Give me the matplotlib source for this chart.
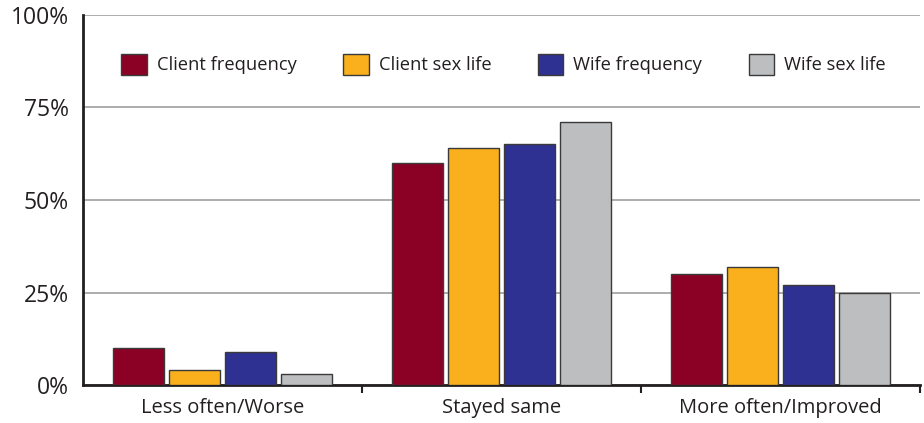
import matplotlib
matplotlib.use("Agg")
import matplotlib.pyplot as plt
import numpy as np

plt.rcParams['font.family'] = ['Open Sans', 'DejaVu Sans']

categories = ["Less often/Worse", "Stayed same", "More often/Improved"]
series_names = ["Client frequency", "Client sex life", "Wife frequency", "Wife sex life"]
client_frequency = [10, 60, 30]
client_sex_life = [4, 64, 32]
wife_frequency = [9, 65, 27]
wife_sex_life = [3, 71, 25]
colors = ["#8B0025", "#F9B01C", "#2E3192", "#BCBEC0"]
y_ticks = [0, 25, 50, 75, 100]
y_tick_labels = ["0%", "25%", "50%", "75%", "100%"]

series = [client_frequency, client_sex_life, wife_frequency, wife_sex_life]

fig = plt.figure(figsize=(9.24, 4.23), dpi=100)
ax = fig.add_axes([83/924, 38/423, 837/924, 370/423])

centers = np.arange(len(categories)) + 0.5
step = 0.2
width = 0.183
for i, (vals, name, c) in enumerate(zip(series, series_names, colors)):
    ax.bar(centers + (i - 1.5) * step, vals, width=width, color=c,
           edgecolor="#3a3a3a", linewidth=1.0, label=name, zorder=3)

ax.set_xlim(0, 3)
ax.set_ylim(0, 100)
ax.set_yticks(y_ticks)
ax.set_yticklabels(y_tick_labels, fontsize=16.5, color="#231f20")
ax.tick_params(axis='y', length=0, pad=10)
ax.yaxis.grid(True, color="#a0a0a0", linewidth=1.2, zorder=0)
ax.set_axisbelow(True)

ax.set_xticks([1, 2, 3])
ax.set_xticklabels([])
ax.set_xticks(centers, minor=True)
ax.set_xticklabels(categories, minor=True, fontsize=14.5, color="#231f20")
ax.tick_params(axis='x', which='major', direction='out', length=6, width=1.5, color="#231f20")
ax.tick_params(axis='x', which='minor', length=0, pad=9)

for s in ["top", "right"]:
    ax.spines[s].set_visible(False)
for s in ["left", "bottom"]:
    ax.spines[s].set_linewidth(2)
    ax.spines[s].set_color("#231f20")

leg = ax.legend(loc="upper left", bbox_to_anchor=(0.026, 0.94), ncol=4, frameon=False,
                fontsize=13.2, handlelength=1.38, handleheight=1.38, handletextpad=0.55,
                columnspacing=2.55)
for t in leg.get_texts():
    t.set_color("#231f20")

fig.savefig("out.png", dpi=100)
